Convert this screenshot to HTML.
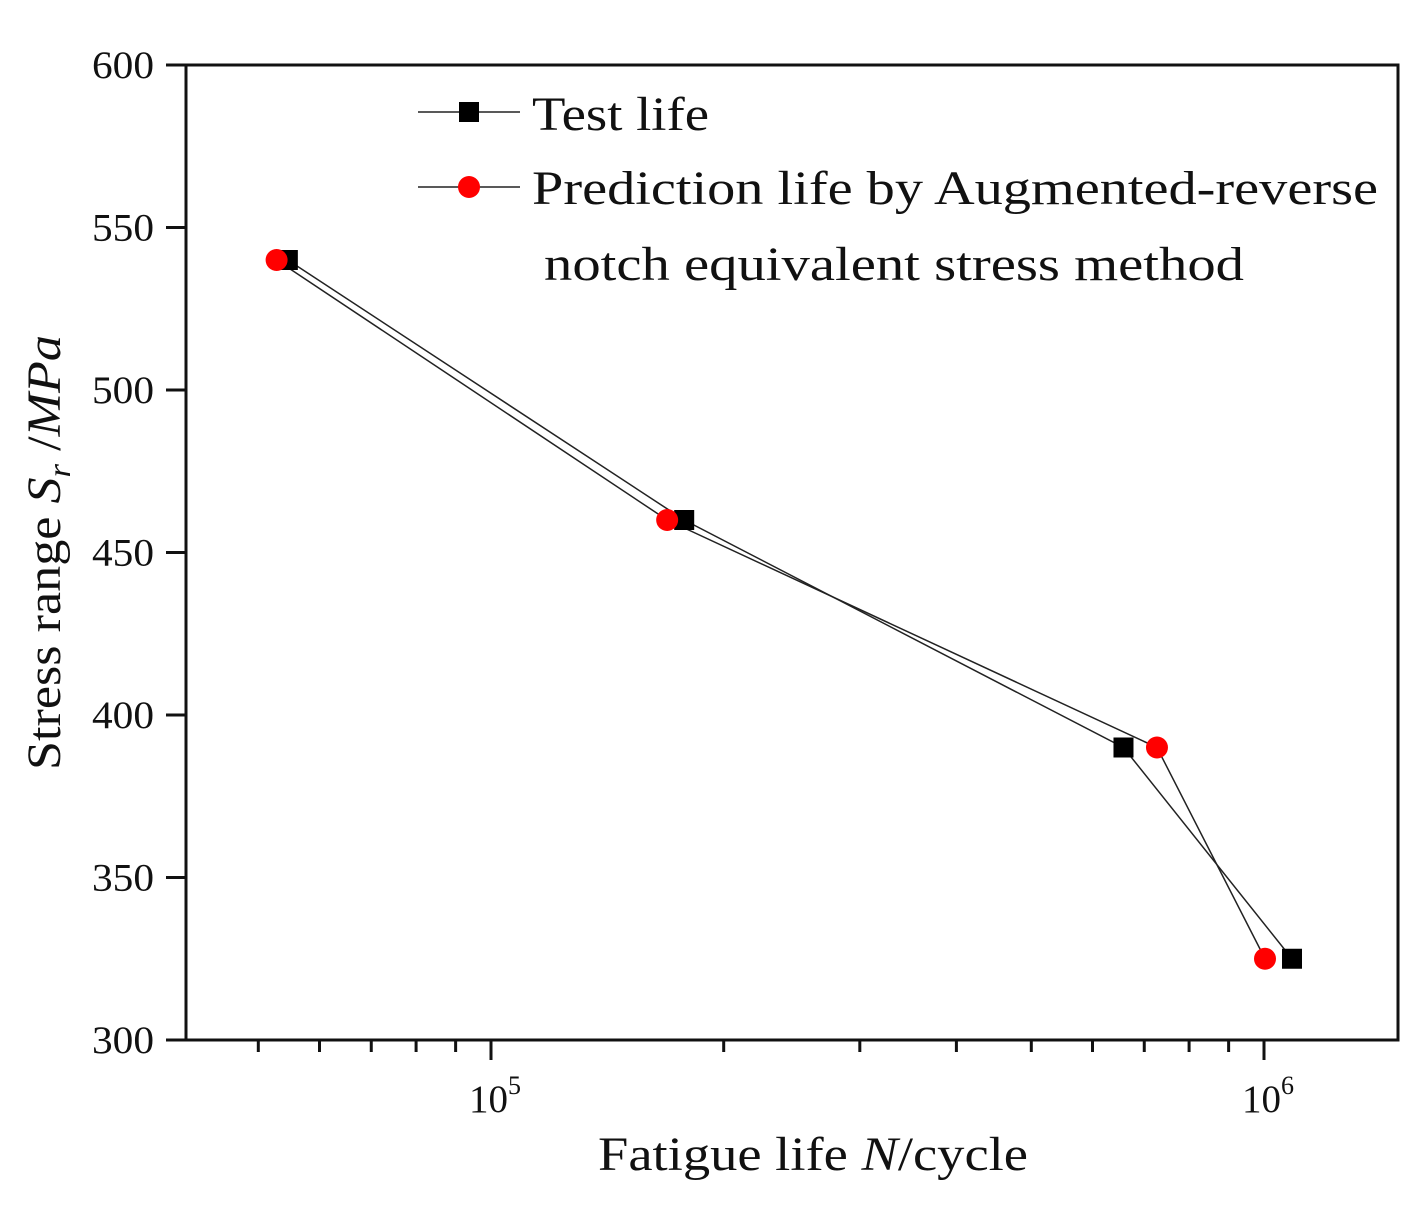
<!DOCTYPE html>
<html><head><meta charset="utf-8"><style>
body{margin:0;background:#fff}
svg text{font-family:"Liberation Serif",serif;fill:#111}
</style></head><body>
<svg width="1428" height="1202" viewBox="0 0 1428 1202">
<g id="axes"></g><g id="series"></g><g id="legend"></g>
</svg>
<script>
const testN=[54600,177800,658000,1087000];
const testS=[540,460,390,325];
const predN=[52800,169000,727000,1003000];
const predS=[540,460,390,325];
const yTicks=[300,350,400,450,500,550,600];
const xMajor=[5,6];
const xMinor=[5e4,6e4,7e4,8e4,9e4,2e5,3e5,4e5,5e5,6e5,7e5,8e5,9e5];

const L=186,R=1398,T=65,B=1040;
const X=v=>491+773*(Math.log10(v)-5);
const Y=v=>B-(v-300)/300*(B-T);
const NS='http://www.w3.org/2000/svg';
function mk(p,t,a){const e=document.createElementNS(NS,t);for(const k in a)e.setAttribute(k,a[k]);p.appendChild(e);return e;}
const ax=document.getElementById('axes');
const frame=mk(ax,'rect',{x:L,y:T,width:R-L,height:B-T,fill:'none',stroke:'#111','stroke-width':3});


yTicks.forEach(v=>{
 const l=mk(ax,'line',{x1:L-20,x2:L,y1:Y(v),y2:Y(v),stroke:'#111','stroke-width':3});
 
 
 const t=mk(ax,'text',{x:L-32,y:Y(v)+13,'text-anchor':'end','font-size':39,textLength:62,lengthAdjust:'spacingAndGlyphs'});
 t.textContent=v;
 
 
});
xMajor.forEach(p=>{
 const x=X(Math.pow(10,p));
 const l=mk(ax,'line',{x1:x,x2:x,y1:B,y2:B+20,stroke:'#111','stroke-width':3});
 
 
 const t=mk(ax,'text',{x:x+4,y:B+72,'text-anchor':'middle','font-size':39});
 t.innerHTML='10<tspan dy="-18" font-size="26">'+p+'</tspan>';
 
 
});
xMinor.forEach(v=>{
 const x=X(v);
 const l=mk(ax,'line',{x1:x,x2:x,y1:B,y2:B+12,stroke:'#111','stroke-width':3});
 
 
});
const xt=mk(ax,'text',{x:598,y:1170,'font-size':48,textLength:430,lengthAdjust:'spacingAndGlyphs'});
xt.innerHTML='Fatigue life <tspan font-style="italic">N</tspan>/cycle';


const yt=mk(ax,'text',{transform:'translate(60,770) rotate(-90)','font-size':48,textLength:435,lengthAdjust:'spacingAndGlyphs'});
yt.innerHTML='Stress range <tspan font-style="italic">S</tspan><tspan font-style="italic" font-size="32" dy="10">r</tspan><tspan dy="-10"> /</tspan><tspan font-style="italic">MPa</tspan>';



const sg=document.getElementById('series');
function line(ns,ss,name){
 const pl=mk(sg,'polyline',{points:ns.map((n,i)=>X(n)+','+Y(ss[i])).join(' '),fill:'none',stroke:'#222','stroke-width':1.5});
 
 
}
line(testN,testS,'test-life-line');
line(predN,predS,'prediction-line');
testN.forEach((n,i)=>{
 const r=mk(sg,'rect',{x:X(n)-10,y:Y(testS[i])-10,width:20,height:20,fill:'#000'});
 
 
});
predN.forEach((n,i)=>{
 const c=mk(sg,'circle',{cx:X(n),cy:Y(predS[i]),r:11,fill:'#f00'});
 
 
});

const lg=document.getElementById('legend');
const l1=mk(lg,'line',{x1:418,x2:520,y1:112,y2:112,stroke:'#222','stroke-width':1.5});


const m1=mk(lg,'rect',{x:459,y:102,width:20,height:20,fill:'#000'});


const t1=mk(lg,'text',{x:532,y:130,'font-size':48,textLength:177,lengthAdjust:'spacingAndGlyphs'});
t1.textContent='Test life';


const l2=mk(lg,'line',{x1:418,x2:520,y1:187,y2:187,stroke:'#222','stroke-width':1.5});


const m2=mk(lg,'circle',{cx:469,cy:187,r:11,fill:'#f00'});


const t2=mk(lg,'text',{x:532,y:204,'font-size':48,textLength:846,lengthAdjust:'spacingAndGlyphs'});
t2.textContent='Prediction life by Augmented-reverse';


const t3=mk(lg,'text',{x:544,y:280,'font-size':48,textLength:700,lengthAdjust:'spacingAndGlyphs'});
t3.textContent='notch equivalent stress method';


</script>
</body></html>
